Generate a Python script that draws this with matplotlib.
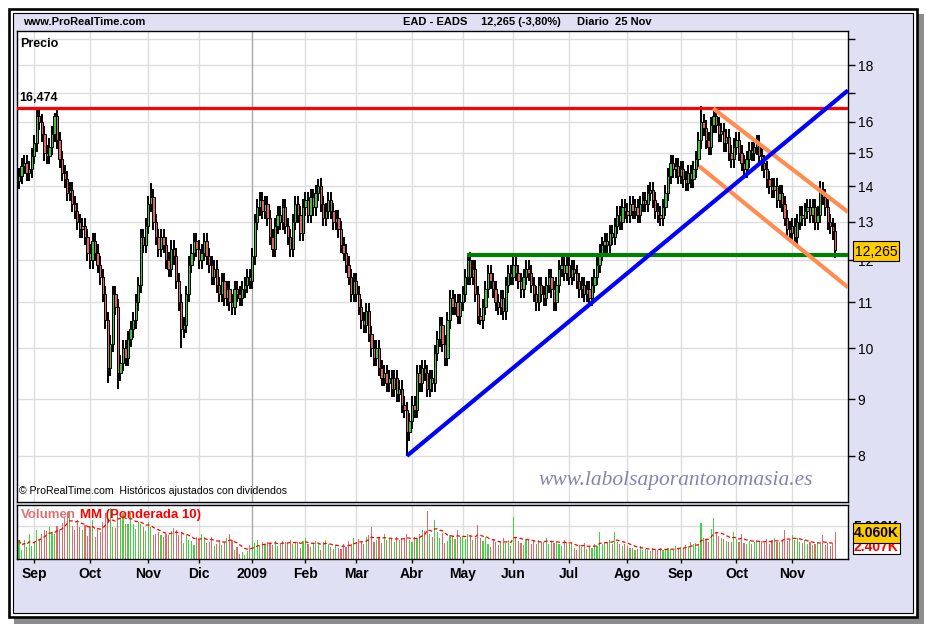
import numpy as np
import matplotlib.pyplot as plt
from matplotlib.patches import Rectangle
from matplotlib.ticker import NullLocator
from matplotlib.transforms import blended_transform_factory

plt.rcParams['font.family'] = ['Liberation Sans', 'DejaVu Sans']

# ---- daily closes, EAD - EADS (last days of Aug 2008 .. 25 Nov 2009) ----
close_aug08 = [14.3, 14.6, 14.7, 14.4, 14.5, 14.9]
close_sep08 = [15.3, 16.2, 16.0, 15.6, 15.0, 14.9, 15.2, 15.6, 16.2, 15.4, 14.8,
               14.4, 14.2, 13.8, 13.9, 13.5, 13.3, 13.0, 12.8, 12.9, 12.6, 12.2]
close_oct08 = [12.0, 12.5, 12.2, 11.9, 11.6, 11.2, 10.6, 9.6, 10.1, 11.2, 10.9, 9.5,
               9.7, 10.0, 9.8, 10.2, 10.4, 10.6, 11.0, 11.4, 12.6, 12.4, 12.9]
close_nov08 = [13.5, 13.7, 13.0, 12.6, 12.3, 12.6, 12.4, 12.0, 11.8, 12.3, 12.1,
               11.5, 11.0, 10.4, 10.5, 11.2, 11.9, 12.2, 12.5, 12.3]
close_dec08 = [12.0, 12.2, 12.5, 12.1, 11.9, 11.6, 11.8, 11.4, 11.2, 11.5, 11.1,
               11.3, 11.0, 10.9, 11.3, 11.2, 11.1, 11.3, 11.4, 11.6, 11.5]
close_jan09 = [12.1, 13.0, 13.4, 13.6, 13.3, 13.5, 13.1, 12.6, 12.3, 12.9, 13.2,
               13.0, 13.4, 12.9, 12.6, 12.3, 13.0, 13.5, 13.2, 12.7, 13.4]
close_feb09 = [13.6, 13.2, 13.7, 13.4, 13.8, 14.0, 13.5, 13.1, 13.3, 13.6, 13.3,
               13.0, 13.1, 12.8, 12.4, 12.2, 11.9, 11.6, 11.2, 11.5]
close_mar09 = [11.2, 10.9, 10.6, 10.5, 10.8, 10.3, 10.0, 9.8, 10.0, 9.6, 9.4, 9.5,
               9.3, 9.4, 9.2, 9.4, 9.1, 9.2, 8.9, 8.8, 8.4, 8.6]
close_apr09 = [8.9, 8.8, 9.5, 9.3, 9.6, 9.5, 9.2, 9.4, 9.3, 9.9, 10.2, 10.5, 10.1,
               9.8, 10.6, 11.1, 10.9, 11.0, 10.7, 11.0]
close_may09 = [11.2, 11.6, 12.0, 11.6, 11.8, 11.2, 10.7, 10.6, 10.9, 11.3, 11.7,
               11.5, 11.3, 11.0, 10.9, 11.1, 10.8, 11.4, 11.7, 11.6]
close_jun09 = [11.9, 11.7, 11.5, 11.3, 11.6, 11.8, 11.7, 11.4, 11.2, 11.0, 11.4,
               11.2, 11.1, 11.4, 11.6, 11.3, 11.0, 11.4, 11.8, 11.9, 11.7, 11.9]
close_jul09 = [11.6, 11.8, 11.7, 11.5, 11.3, 11.4, 11.2, 11.3, 11.1, 11.4, 11.6,
               11.9, 12.2, 12.4, 12.5, 12.4, 12.7, 12.6, 12.9, 13.2, 13.0, 13.4, 13.3]
close_aug09 = [13.2, 13.5, 13.3, 13.4, 13.2, 13.5, 13.6, 13.5, 13.8, 13.9, 13.6,
               13.3, 13.2, 13.1, 13.4, 13.8, 14.3, 14.7, 14.5, 14.6, 14.3]
close_sep09 = [14.5, 14.2, 14.1, 14.4, 14.2, 14.5, 14.8, 15.4, 16.0, 15.8, 15.4,
               15.2, 15.9, 16.2, 15.9, 15.6, 15.7, 15.3, 15.5, 15.0, 14.8, 15.2]
close_oct09 = [15.4, 15.0, 14.7, 14.5, 14.8, 15.1, 15.0, 15.2, 15.3, 14.9, 14.7,
               14.5, 14.2, 14.0, 13.9, 14.0, 13.6, 13.8, 13.5, 13.1, 12.8, 12.7]
close_nov09 = [12.9, 12.6, 13.0, 13.2, 13.1, 13.3, 13.4, 13.2, 13.4, 13.0, 13.2,
               13.9, 13.7, 13.4, 13.0, 12.9, 12.75, 12.265]

# notable intraday extremes (index -> price)
spike_highs = {7: 16.474, 14: 16.3, 52: 14.1, 118: 14.2, 177: 12.2, 269: 16.55, 316: 14.15}
spike_lows = {35: 9.3, 39: 9.2, 64: 10.0, 153: 8.0, 182: 10.5}

# ---- volume (thousands) ----
vol_aug08 = [2800, 1400, 2800, 1800, 3800, 2000]
vol_sep08 = [2400, 4300, 3000, 3800, 4400, 4200, 4800, 4100, 3700, 5000, 4500,
             5400, 6200, 7000, 7200, 5000, 4400, 5800, 4800, 4300, 5100, 3500]
vol_oct08 = [4900, 5800, 3300, 4700, 4100, 5500, 6900, 7100, 7600, 4800, 4700, 7200,
             6100, 6900, 5300, 5200, 6900, 5200, 4500, 5600, 5200, 4800, 4200]
vol_nov08 = [5500, 4800, 3600, 3800, 4000, 3600, 3300, 3800, 3600, 4200, 4600,
             4400, 3600, 4100, 2400, 3600, 2900, 2700, 2100, 3300]
vol_dec08 = [2800, 3800, 3300, 2400, 2500, 3300, 2000, 2300, 2800, 2100, 2600,
             3100, 3800, 2800, 1300, 1800, 800, 1100, 600, 1200, 2100]
vol_jan09 = [2600, 2400, 2900, 1900, 2500, 2200, 2600, 2400, 2100, 2700, 1900,
             2300, 2700, 2500, 2400, 2900, 2200, 2600, 2500, 1700, 2700]
vol_feb09 = [3200, 2200, 1800, 2300, 2700, 2300, 1400, 2500, 2900, 2200, 1800,
             1500, 2100, 1700, 1500, 2300, 1800, 2700, 2300, 3200]
vol_mar09 = [2600, 3000, 2600, 2200, 3300, 3600, 4800, 2600, 2900, 3300, 2400,
             3700, 2900, 3000, 3100, 2600, 3300, 2800, 3100, 3200, 3800, 2900]
vol_apr09 = [2600, 3300, 3100, 3800, 4400, 4200, 7200, 3700, 3300, 5900, 4000,
             3200, 3900, 2400, 2700, 3600, 3500, 3000, 4400, 3300]
vol_may09 = [3400, 3000, 3800, 3500, 2900, 3200, 5100, 3100, 2700, 3300, 2300,
             1800, 3000, 2600, 2100, 2500, 3100, 2400, 2800, 1900]
vol_jun09 = [6300, 3200, 2700, 2400, 2100, 2900, 3000, 2300, 2700, 2200, 2800,
             2500, 2600, 3200, 2300, 2700, 2400, 2600, 2200, 2000, 2900, 2500]
vol_jul09 = [2200, 2400, 1600, 1300, 2100, 1800, 2400, 1500, 2000, 1700, 2300, 2000,
             4100, 2200, 2600, 2400, 2800, 2200, 4100, 2600, 2200, 2000, 2300]
vol_aug09 = [1900, 1600, 1700, 1300, 1500, 1900, 1400, 1500, 1300, 1200, 1600,
             1300, 1400, 1700, 1300, 1400, 1600, 1500, 1400, 1900, 1600]
vol_sep09 = [1800, 1600, 2100, 1900, 2500, 2200, 2400, 2200, 5400, 3200, 2800,
             2600, 4500, 6200, 3900, 3500, 3200, 3000, 2700, 2500, 2600, 4000]
vol_oct09 = [3000, 2600, 3800, 2400, 2300, 2700, 2200, 2600, 2900, 2500, 2700,
             2400, 3000, 2300, 2800, 3200, 2600, 2500, 2900, 4300, 2700, 2800]
vol_nov09 = [3600, 2900, 3100, 2600, 2400, 2800, 2200, 2500, 2100, 2300, 2600,
             2200, 3600, 2100, 2400, 2000, 2300, 4060]

month_labels = ['Sep', 'Oct', 'Nov', 'Dic', '2009', 'Feb', 'Mar', 'Abr', 'May',
                'Jun', 'Jul', 'Ago', 'Sep', 'Oct', 'Nov']

# drawn lines: (index, price) anchors
resistance_level = 16.474
support_line = [(176.7, 12.15), (327, 12.15)]
trend_up = [(153, 8.0), (327, 17.08)]
channel_top = [(273.8, 16.45), (327, 13.27)]
channel_bottom = [(268.2, 14.6), (327, 11.35)]

# ---------------------------------------------------------------------------
month_closes = [close_aug08, close_sep08, close_oct08, close_nov08, close_dec08,
                close_jan09, close_feb09, close_mar09, close_apr09, close_may09,
                close_jun09, close_jul09, close_aug09, close_sep09, close_oct09,
                close_nov09]
month_vols = [vol_aug08, vol_sep08, vol_oct08, vol_nov08, vol_dec08, vol_jan09,
              vol_feb09, vol_mar09, vol_apr09, vol_may09, vol_jun09, vol_jul09,
              vol_aug09, vol_sep09, vol_oct09, vol_nov09]
closes = np.concatenate(month_closes)
vols = np.concatenate(month_vols).astype(float)
n = len(closes)
idx = np.arange(n)
month_starts = np.cumsum([len(m) for m in month_closes])[:-1]

opens = np.r_[closes[0] * 0.99, closes[:-1]]
wick = 0.017
highs = np.maximum(opens, closes) * (1 + wick)
lows = np.minimum(opens, closes) * (1 - wick)
for k, v in spike_highs.items():
    highs[k] = v
for k, v in spike_lows.items():
    lows[k] = v
up = closes >= opens

# weighted moving average of volume, 10 periods
w = np.arange(1, 11, dtype=float)
wma = np.full(n, np.nan)
for i in range(n):
    seg = vols[max(0, i - 9):i + 1]
    ww = w[-len(seg):]
    wma[i] = (seg * ww).sum() / ww.sum()

W, H = 926, 626
LAV = '#e0e0f4'
GRID = '#dcdcdc'
GREEN = '#3cc83c'
RED = '#e06464'

fig = plt.figure(figsize=(W / 100, H / 100), dpi=100)
fig.patch.set_facecolor('white')


def fbox(x0, y0, x1, y1, **kw):
    r = Rectangle((x0 / W, 1 - y1 / H), (x1 - x0) / W, (y1 - y0) / H,
                  transform=fig.transFigure, **kw)
    fig.add_artist(r)
    return r


def ftext(x, y, s, **kw):
    return fig.text(x / W, 1 - y / H, s, **kw)


# frame with shadow
fbox(14, 14, 924, 624, facecolor='#8c8c8c', edgecolor='none', zorder=-5)
fbox(9, 9, 917, 617, facecolor='white', edgecolor='black', linewidth=1.9, zorder=-4)
fbox(12.5, 12.5, 913, 612.5, facecolor=LAV, edgecolor='black', linewidth=0.8, zorder=-3)

# ---- price panel ----
ax = fig.add_axes([17 / W, 1 - 502 / H, 831 / W, 471 / H])
ax.set_yscale('log')
ax.set_xlim(-0.8, 327)
ax.set_ylim(7.27, 19.32)
for s in ax.spines.values():
    s.set_linewidth(1.0)

for p in range(8, 20):
    ax.axhline(p, color=GRID, lw=1, zorder=0)
for j, ms in enumerate(month_starts):
    ax.axvline(ms, color='#a8a8a8' if month_labels[j] == '2009' else GRID, lw=1, zorder=0)

ax.vlines(idx, lows, highs, color='black', lw=1.4, zorder=2)
body_lo = np.minimum(opens, closes)
body_h = np.maximum(np.abs(closes - opens), closes * 0.004)
ax.bar(idx, body_h, bottom=body_lo, width=0.9, color=np.where(up, GREEN, RED),
       edgecolor='black', linewidth=0.7, zorder=3)

ax.axhline(resistance_level, color='#ff0000', lw=2.3, zorder=4)
for line, col in [(support_line, '#008000'), (channel_top, '#ff8c50'),
                  (channel_bottom, '#ff8c50'), (trend_up, '#0000ff')]:
    xs, ys = zip(*line)
    ax.plot(xs, ys, color=col, lw=3.0, solid_capstyle='butt', zorder=5)

ticks = list(range(8, 20))
ax.set_yticks(ticks, labels=['' if t in (17, 19) else str(t) for t in ticks])
ax.yaxis.set_minor_locator(NullLocator())
ax.yaxis.tick_right()
ax.tick_params(axis='y', direction='out', length=5, width=1, labelsize=10, pad=2)
ax.tick_params(axis='x', length=0, labelbottom=False)

tr = blended_transform_factory(ax.transAxes, ax.transData)
ax.text(0.003, resistance_level * 1.008, '16,474', transform=tr, fontsize=9,
        fontweight='bold', va='bottom', ha='left', zorder=6)
ax.text(0.004, 0.985, 'Precio', transform=ax.transAxes, fontsize=9,
        fontweight='bold', va='top', ha='left')
ax.text(0.0025, 0.012, '\u00a9 ProRealTime.com  Hist\u00f3ricos ajustados con dividendos',
        transform=ax.transAxes, fontsize=7.6, va='bottom', ha='left')

# ---- volume panel ----
axv = fig.add_axes([17 / W, 1 - 559 / H, 831 / W, 54 / H])
axv.set_xlim(-0.8, 327)
axv.set_ylim(0, 8100)
for s in axv.spines.values():
    s.set_linewidth(1.0)
axv.axhline(5000, color=GRID, lw=1, zorder=0)
for j, ms in enumerate(month_starts):
    axv.axvline(ms, color='#a8a8a8' if month_labels[j] == '2009' else GRID, lw=1, zorder=0)
axv.bar(idx, vols, width=0.45, color=np.where(up, '#44d044', '#e06a6a'), zorder=2)
axv.plot(idx, wma, color='#ff0000', lw=0.9, ls=(0, (3, 2)), zorder=3)
axv.set_xticks(month_starts, labels=month_labels)
axv.tick_params(axis='x', direction='out', length=3, width=1, pad=2.5, labelsize=10)
for lab in axv.get_xticklabels():
    lab.set_fontweight('bold')
axv.set_yticks([])
axv.text(0.005, 0.93, 'Volumen', transform=axv.transAxes, color='#e07070',
         fontsize=9.5, fontweight='bold', va='top', ha='left')
axv.text(0.0755, 0.93, 'MM (Ponderada 10)', transform=axv.transAxes, color='#ff0000',
         fontsize=9.5, fontweight='bold', va='top', ha='left')

# ---- header / labels in figure pixels ----
ftext(23, 22, 'www.ProRealTime.com', fontsize=8, fontweight='bold', va='center')
ftext(403, 22, 'EAD - EADS', fontsize=8, fontweight='bold', va='center')
ftext(481, 22, '12,265 (-3,80%)', fontsize=8, fontweight='bold', va='center')
ftext(577, 22, 'Diario  25 Nov', fontsize=8, fontweight='bold', va='center')

ftext(538, 481, 'www.labolsaporantonomasia.es', family='Liberation Serif',
      style='italic', fontsize=15.5, color='#8484b4', va='center', ha='left')

# last price box
fbox(853, 241, 899, 261, facecolor='#ffcc00', edgecolor='black', linewidth=0.8, zorder=3)
ftext(876, 251.5, '12,265', fontsize=10, va='center', ha='center', zorder=4)

# volume value boxes
ftext(876, 527, '5.000K', fontsize=10, fontweight='bold', va='center', ha='center', zorder=2)
fbox(853, 543, 900, 554, facecolor='white', edgecolor='black', linewidth=0.8, zorder=2.5)
ftext(876, 547, '2.407K', fontsize=10, fontweight='bold', color='#ff0000',
      va='center', ha='center', zorder=2.6)
fbox(853, 523, 900, 543, facecolor='#ffcc00', edgecolor='black', linewidth=0.8, zorder=3)
ftext(876, 533, '4.060K', fontsize=10, fontweight='bold', va='center', ha='center', zorder=4)

fig.savefig('out.png', dpi=100, facecolor=fig.get_facecolor())
